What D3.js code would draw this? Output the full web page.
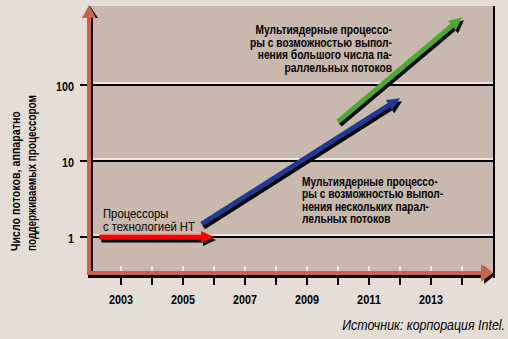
<!DOCTYPE html>
<html lang="ru">
<head>
    <meta charset="UTF-8">
    <script src="https://d3js.org/d3.v7.min.js"></script>
    <style>
        body { margin: 0; background: #e6ddd7; }
        svg { display: block; }
        .lbl { font-family: "Liberation Sans", Arial, sans-serif; font-weight: bold; fill: #000; }
    </style>
</head>
<body>
    <svg id="chart" width="508" height="339"></svg>
    <script>
        // года на оси X
        const years = [2003, 2004, 2005, 2006, 2007, 2008, 2009, 2010, 2011, 2012, 2013, 2014];
        const yearLabels = [2003, 2005, 2007, 2009, 2011, 2013];
        const yTicks = [1, 10, 100];

        // стрелки: [год, потоков] начало и конец
        const htArrow = [[2002.3, 1], [2006.0, 1]];
        const multiArrow = [[2005.6, 1.48], [2012.0, 67]];
        const manyArrow = [[2010.0, 33], [2014.0, 780]];

        const htText = ["Процессоры", "с технологией НТ"];
        const multiText = ["Мультиядерные процессо-", "ры с возможностью выпол-", "нения нескольких парал-", "лельных потоков"];
        const manyText = ["Мультиядерные процессо-", "ры с возможностью выпол-", "нения большого числа па-", "раллельных потоков"];
        const yTitle = ["Число потоков, аппаратно", "поддерживаемых процессором"];
        const source = "Источник: корпорация Intel.";

        const svg = d3.select("#chart");
        const pL = 90, pR = 494, pT = 6, pB = 273;

        const x = d3.scaleLinear().domain([2002, 2015]).range([pL, 493]);
        const y = d3.scaleLog().domain([1, 1000]).range([237, 9]);

        // узкий шрифт: текст в группе, сжатой по горизонтали
        function label(px, py, lines, opt) {
            const g = svg.append("g");
            const t = g.append("text").attr("class", "lbl")
                .attr("text-anchor", opt.anchor || "start")
                .style("font-size", opt.size + "px")
                .style("font-weight", opt.weight || "bold")
                .style("font-style", opt.style || "normal");
            const spans = lines.map((l, i) => t.append("tspan").attr("x", 0).attr("y", i * (opt.dy || 0)).text(l));
            const ref = spans[opt.ref || 0].node().getComputedTextLength();
            const s = opt.width ? opt.width / ref : 1;
            g.attr("transform", `translate(${px},${py})${opt.rot ? " rotate(" + opt.rot + ")" : ""} scale(${s},1)`);
            return g;
        }

        svg.append("rect").attr("x", pL).attr("y", pT)
            .attr("width", pR - pL).attr("height", pB - pT)
            .attr("fill", "#c9b8ae");

        // сетка
        yTicks.forEach(t => {
            svg.append("line").attr("x1", pL).attr("x2", pR)
                .attr("y1", y(t) - 2).attr("y2", y(t) - 2)
                .attr("stroke", "#ede4de").attr("stroke-width", 2);
            svg.append("line").attr("x1", 80).attr("x2", pR)
                .attr("y1", y(t)).attr("y2", y(t))
                .attr("stroke", "#000").attr("stroke-width", 2);
            label(74, y(t) + 5.5, [String(t)], { anchor: "end", size: 13, width: String(t).length * 6 });
        });

        // правая рамка
        svg.append("line").attr("x1", pR).attr("x2", pR)
            .attr("y1", pT).attr("y2", 278)
            .attr("stroke", "#000").attr("stroke-width", 2);

        // засечки по годам
        years.forEach(yr => {
            svg.append("line").attr("x1", x(yr)).attr("x2", x(yr))
                .attr("y1", 266).attr("y2", 271)
                .attr("stroke", "#ede4de").attr("stroke-width", 2);
            svg.append("line").attr("x1", x(yr)).attr("x2", x(yr))
                .attr("y1", 271).attr("y2", 285)
                .attr("stroke", "#000").attr("stroke-width", 2);
        });
        yearLabels.forEach(d => label(x(d), 303.5, [String(d)], { anchor: "middle", size: 12.5, width: 24 }));

        // оси
        const axisCol = "#c8644c";
        svg.append("line").attr("x1", 88).attr("x2", 484).attr("y1", 276.5).attr("y2", 276.5)
            .attr("stroke", "#000").attr("stroke-width", 3);
        svg.append("polygon").attr("points", "484,266 495,275 484,284").attr("fill", "#000");
        svg.append("line").attr("x1", 87).attr("x2", 484).attr("y1", 273).attr("y2", 273)
            .attr("stroke", axisCol).attr("stroke-width", 4);
        svg.append("polygon").attr("points", "481,264 493,273 481,282").attr("fill", axisCol);

        svg.append("line").attr("x1", 92).attr("x2", 92).attr("y1", 18).attr("y2", 271)
            .attr("stroke", "#000").attr("stroke-width", 2);
        svg.append("polygon").attr("points", "84,18 90,6 98,18").attr("fill", "#000");
        svg.append("line").attr("x1", 89).attr("x2", 89).attr("y1", 16).attr("y2", 275)
            .attr("stroke", axisCol).attr("stroke-width", 4);
        svg.append("polygon").attr("points", "82,18 89,5 96,18").attr("fill", axisCol);

        // стрелки
        function arrow(pts, color, w, hl, hw) {
            const [x0, y0] = [x(pts[0][0]), y(pts[0][1])];
            const [x1, y1] = [x(pts[1][0]), y(pts[1][1])];
            const len = Math.hypot(x1 - x0, y1 - y0);
            const ux = (x1 - x0) / len, uy = (y1 - y0) / len;
            const bx = x1 - ux * hl, by = y1 - uy * hl;
            const draw = (dx, dy, c) => {
                svg.append("line")
                    .attr("x1", x0 + dx).attr("y1", y0 + dy)
                    .attr("x2", bx + dx).attr("y2", by + dy)
                    .attr("stroke", c).attr("stroke-width", w);
                svg.append("polygon")
                    .attr("points", [
                        [x1 + dx, y1 + dy],
                        [bx - uy * hw + dx, by + ux * hw + dy],
                        [bx + uy * hw + dx, by - ux * hw + dy]
                    ].map(p => p.join(",")).join(" "))
                    .attr("fill", c);
            };
            draw(2, 3, "#000");
            draw(0, 0, color);
        }
        arrow(htArrow, "#ff0000", 5, 13, 6);
        arrow(multiArrow, "#1c3a96", 5, 13, 6);
        arrow(manyArrow, "#4caa2c", 5, 13, 6);

        // подписи
        label(103, 218, htText, { size: 12, weight: "normal", dy: 13.5, ref: 1, width: 92 });
        label(392, 34, manyText, { anchor: "end", size: 12.6, dy: 12.7, ref: 1, width: 142 });
        label(302, 186, multiText, { size: 12.2, dy: 12.3, ref: 1, width: 141 });

        // подпись оси Y
        label(20, 251, [yTitle[0]], { size: 12.5, rot: -90, width: 140 });
        label(36, 251, [yTitle[1]], { size: 12.5, rot: -90, width: 156 });

        label(505, 330, [source], { anchor: "end", size: 14, weight: "normal", style: "italic", width: 163 });
    </script>
</body>
</html>
